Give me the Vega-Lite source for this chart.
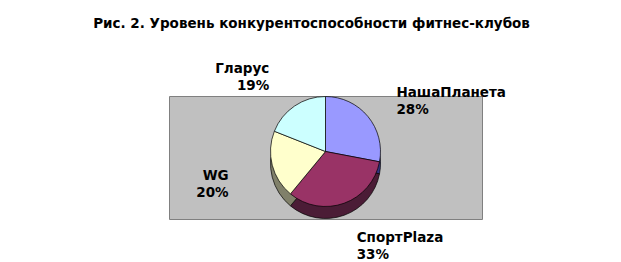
{
  "$schema": "https://vega.github.io/schema/vega-lite/v6.json",
  "width": 313,
  "height": 123,
  "autosize": {"type": "none"},
  "padding": {"left": 169, "top": 96, "right": 139, "bottom": 43},
  "background": "white",
  "view": {"fill": "#C0C0C0", "stroke": "#808080", "strokeWidth": 1},
  "title": {
    "text": "Рис. 2. Уровень конкурентоспособности фитнес-клубов",
    "font": "DejaVu Sans",
    "fontSize": 13.5,
    "fontWeight": "bold",
    "color": "#000000",
    "anchor": "middle",
    "dx": -14,
    "offset": 31
  },
  "data": {
    "values": [
      {"club": "НашаПланета", "share": 28, "order": 1},
      {"club": "СпортPlaza", "share": 33, "order": 2},
      {"club": "WG", "share": 20, "order": 3},
      {"club": "Гларус", "share": 19, "order": 4}
    ]
  },
  "transform": [
    {"calculate": "datum.club + '\\n' + datum.share + '%'", "as": "label"}
  ],
  "encoding": {
    "theta": {"field": "share", "type": "quantitative", "stack": true},
    "order": {"field": "order", "type": "quantitative"}
  },
  "layer": [
    {
      "mark": {"type": "arc", "outerRadius": 55, "yOffset": 6, "stroke": "#000000", "strokeWidth": 0.7},
      "encoding": {
        "color": {
          "field": "club",
          "type": "nominal",
          "scale": {"domain": ["НашаПланета", "СпортPlaza", "WG", "Гларус"], "range": ["#333380", "#4B1C36", "#80806A", "#668080"]},
          "legend": null
        }
      }
    },
    {
      "mark": {"type": "arc", "outerRadius": 55, "yOffset": -6, "stroke": "#000000", "strokeWidth": 0.7},
      "encoding": {
        "fill": {
          "field": "club",
          "type": "nominal",
          "scale": {"domain": ["НашаПланета", "СпортPlaza", "WG", "Гларус"], "range": ["#9999FF", "#993366", "#FFFFCC", "#CCFFFF"]},
          "legend": null
        }
      }
    },
    {
      "mark": {"type": "text", "radius": 92, "yOffset": -6, "align": "left", "baseline": "middle", "lineBreak": "\n", "lineHeight": 17, "font": "DejaVu Sans", "fontSize": 13.5, "fontWeight": "bold", "color": "#000000"},
      "encoding": {
        "text": {"condition": {"test": "datum.club == 'НашаПланета' || datum.club == 'СпортPlaza'", "field": "label"}, "value": ""}
      }
    },
    {
      "mark": {"type": "text", "radius": 100, "yOffset": -6, "align": "right", "baseline": "middle", "lineBreak": "\n", "lineHeight": 17, "font": "DejaVu Sans", "fontSize": 13.5, "fontWeight": "bold", "color": "#000000"},
      "encoding": {
        "text": {"condition": {"test": "datum.club == 'WG' || datum.club == 'Гларус'", "field": "label"}, "value": ""}
      }
    }
  ],
  "resolve": {"scale": {"color": "independent", "fill": "independent"}}
}
